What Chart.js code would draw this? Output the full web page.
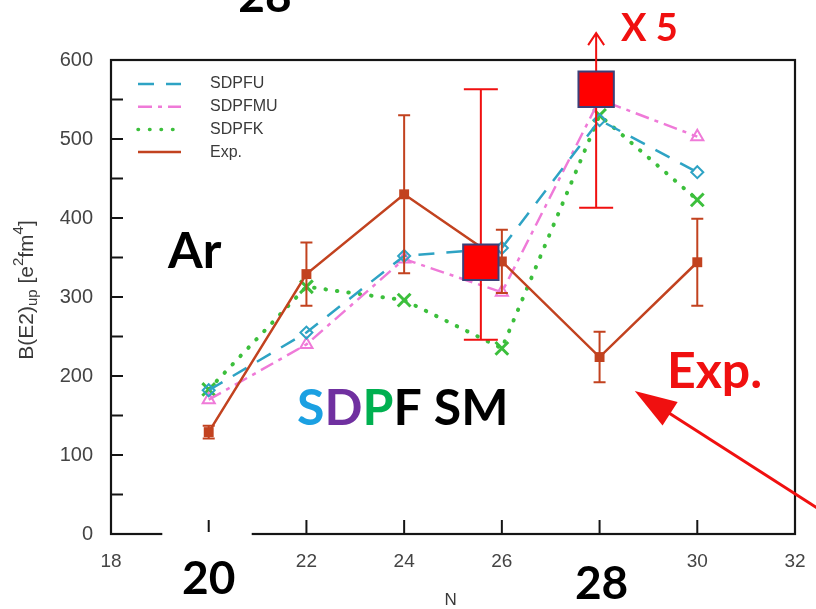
<!DOCTYPE html>
<html>
<head>
<meta charset="utf-8">
<script src="https://cdn.jsdelivr.net/npm/chart.js@4"></script>
<style>
  html, body { margin: 0; padding: 0; background: #fff; }
  canvas { display: block; }
</style>
</head>
<body>
<canvas id="be2Chart" width="816" height="609"></canvas>
<script>
// neutron number and B(E2)up values [e^2 fm^4]
const nValues = [20, 22, 24, 26, 28, 30];
const sdpfu = [182, 255, 352, 362, 524, 458];
const sdpfmu = [170, 240, 348, 306, 550, 503];
const sdpfk = [183, 313, 296, 235, 530, 423];
const expValues = [129, 329, 430, 345, 224, 344];
const expErr = [8, 40, 100, 40, 32, 55];

// the two highlighted measurements (big red boxes)
const highlightN = [25.57, 27.93];
const highlightValues = [344, 563];
const highlightLow = [246, 413];
const highlightHigh = [563, 634];

const xTicks = [18, 20, 22, 24, 26, 28, 30, 32];
const yTicks = [0, 100, 200, 300, 400, 500, 600];
const yMinorTicks = [50, 150, 250, 350, 450, 550];
const bigXLabels = [20, 28];
const legendLabels = ['SDPFU', 'SDPFMU', 'SDPFK', 'Exp.'];

const EXP_COLOR = '#c2421f';
const RED = '#f01010';
const AXIS_FONT = '"Liberation Sans", Arial, sans-serif';
const BOLD_FONT = 'Lato, "Open Sans", sans-serif';
const RIGHT_MARGIN = 21;

const pts = vals => vals.map((v, i) => ({ x: nValues[i], y: v }));

const datasets = [
  {
    label: 'highlight',
    data: highlightValues.map((v, i) => ({ x: highlightN[i], y: v })),
    showLine: false,
    pointStyle: 'rect',
    pointRadius: 25,
    pointBackgroundColor: '#ff0000',
    pointBorderColor: '#3b3f78',
    pointBorderWidth: 2,
    clip: false
  },
  {
    label: 'Exp.',
    data: pts(expValues),
    borderColor: EXP_COLOR,
    borderWidth: 2.5,
    pointStyle: 'rect',
    pointRadius: 7,
    pointBackgroundColor: EXP_COLOR,
    pointBorderColor: EXP_COLOR,
    pointBorderWidth: 0
  },
  {
    label: 'SDPFU',
    data: pts(sdpfu),
    borderColor: '#2ea3c4',
    borderWidth: 2.5,
    borderDash: [16, 12],
    pointStyle: 'rectRot',
    pointRadius: 6,
    pointBackgroundColor: 'rgba(0,0,0,0)',
    pointBorderColor: '#2ea3c4',
    pointBorderWidth: 2
  },
  {
    label: 'SDPFMU',
    data: pts(sdpfmu),
    borderColor: '#ef7ad8',
    borderWidth: 2.5,
    borderDash: [14, 6, 4, 6],
    pointStyle: 'triangle',
    pointRadius: 7,
    pointBackgroundColor: 'rgba(0,0,0,0)',
    pointBorderColor: '#ef7ad8',
    pointBorderWidth: 2
  },
  {
    label: 'SDPFK',
    data: pts(sdpfk),
    borderColor: '#3cbf3c',
    borderWidth: 4,
    borderDash: [0.5, 11],
    borderCapStyle: 'round',
    pointStyle: 'crossRot',
    pointRadius: 9,
    pointBorderColor: '#3cbf3c',
    pointBorderWidth: 3
  }
];

function drawRich(ctx, parts, x, y) {
  let total = 0;
  parts.forEach(p => { ctx.font = p.size + 'px ' + AXIS_FONT; total += ctx.measureText(p.t).width; });
  let cx = x - total / 2;
  parts.forEach(p => {
    ctx.font = p.size + 'px ' + AXIS_FONT;
    ctx.fillText(p.t, cx, y + (p.dy || 0));
    cx += ctx.measureText(p.t).width;
  });
}

// keep the plot frame a fixed distance from the right edge
const fixArea = {
  id: 'fixArea',
  afterLayout(chart) {
    const x = chart.scales.x;
    const right = chart.width - RIGHT_MARGIN;
    if (x && x.right !== right) {
      x.right = right;
      x.width = right - x.left;
      x.configure();
      chart.chartArea.right = right;
      chart.chartArea.width = right - chart.chartArea.left;
    }
  }
};

const decorations = {
  id: 'decorations',
  beforeDatasetsDraw(chart) {
    const { ctx, chartArea: a, scales: { x, y } } = chart;
    ctx.save();
    ctx.strokeStyle = '#151515';
    ctx.lineWidth = 2.2;
    ctx.strokeRect(a.left, a.top, a.right - a.left, a.bottom - a.top);
    // inward tick marks
    ctx.lineWidth = 2;
    yTicks.concat(yMinorTicks).forEach(v => {
      const py = y.getPixelForValue(v);
      ctx.beginPath(); ctx.moveTo(a.left, py); ctx.lineTo(a.left + 12, py); ctx.stroke();
    });
    xTicks.forEach(v => {
      const px = x.getPixelForValue(v);
      ctx.beginPath(); ctx.moveTo(px, a.bottom); ctx.lineTo(px, a.bottom - 14); ctx.stroke();
    });
    ctx.restore();
  },
  beforeDatasetDraw(chart, args) {
    const { ctx, scales: { x, y } } = chart;
    const label = chart.data.datasets[args.index].label;
    ctx.save();
    if (label === 'Exp.') {
      ctx.strokeStyle = EXP_COLOR;
      ctx.lineWidth = 2;
      nValues.forEach((n, i) => {
        const px = x.getPixelForValue(n);
        const hi = y.getPixelForValue(expValues[i] + expErr[i]);
        const lo = y.getPixelForValue(expValues[i] - expErr[i]);
        ctx.beginPath();
        ctx.moveTo(px, hi); ctx.lineTo(px, lo);
        ctx.moveTo(px - 6, hi); ctx.lineTo(px + 6, hi);
        ctx.moveTo(px - 6, lo); ctx.lineTo(px + 6, lo);
        ctx.stroke();
      });
    }
    if (label === 'highlight') {
      ctx.strokeStyle = RED;
      ctx.lineWidth = 2;
      highlightN.forEach((n, i) => {
        const px = x.getPixelForValue(n);
        const hi = y.getPixelForValue(highlightHigh[i]);
        const lo = y.getPixelForValue(highlightLow[i]);
        ctx.beginPath();
        ctx.moveTo(px, hi); ctx.lineTo(px, lo);
        ctx.moveTo(px - 17, lo); ctx.lineTo(px + 17, lo);
        if (highlightHigh[i] > y.max) {
          // open arrow: value off the scale
          ctx.moveTo(px - 8, hi + 12); ctx.lineTo(px, hi); ctx.lineTo(px + 8, hi + 12);
        } else {
          ctx.moveTo(px - 17, hi); ctx.lineTo(px + 17, hi);
        }
        ctx.stroke();
      });
    }
    ctx.restore();
  },
  afterDraw(chart) {
    const { ctx, chartArea: a, scales: { x, y } } = chart;
    ctx.save();

    // legend
    const lx = a.left + 27, ly = a.top + 24, step = 22.7;
    legendLabels.forEach((name, i) => {
      const ds = chart.data.datasets.find(d => d.label === name);
      const py = ly + i * step;
      ctx.save();
      ctx.strokeStyle = ds.borderColor;
      ctx.lineWidth = name === 'SDPFK' ? 3.5 : 2.5;
      ctx.lineCap = ds.borderCapStyle || 'butt';
      ctx.setLineDash(ds.borderDash || []);
      ctx.beginPath(); ctx.moveTo(lx, py); ctx.lineTo(lx + 43, py); ctx.stroke();
      ctx.restore();
      ctx.fillStyle = '#3a3a3a';
      ctx.font = '16px ' + AXIS_FONT;
      ctx.textBaseline = 'middle';
      ctx.textAlign = 'left';
      ctx.fillText(name, lx + 72, py);
    });

    // y axis title
    ctx.save();
    ctx.translate(27, 290);
    ctx.rotate(-Math.PI / 2);
    ctx.fillStyle = '#3a3a3a';
    ctx.textBaseline = 'middle';
    drawRich(ctx, [
      { t: 'B(E2)', size: 21 },
      { t: 'up', size: 15, dy: 6 },
      { t: ' [e', size: 21 },
      { t: '2', size: 15, dy: -8 },
      { t: 'fm', size: 21 },
      { t: '4', size: 15, dy: -8 },
      { t: ']', size: 21 }
    ], 0, 0);
    ctx.restore();

    // x axis title
    ctx.fillStyle = '#3a3a3a';
    ctx.font = '17px ' + AXIS_FONT;
    ctx.textAlign = 'center';
    ctx.textBaseline = 'middle';
    ctx.fillText('N', x.getPixelForValue(24.95), 600);

    // large N labels, sitting on a white patch over the axis
    ctx.fillStyle = '#ffffff';
    ctx.fillRect(x.getPixelForValue(19.05), a.bottom - 2, x.getPixelForValue(20.88) - x.getPixelForValue(19.05), 6);
    ctx.fillStyle = '#000';
    ctx.font = 'bold 46px ' + BOLD_FONT;
    ctx.textBaseline = 'alphabetic';
    ctx.fillText(String(bigXLabels[0]), x.getPixelForValue(bigXLabels[0]), 594);
    ctx.fillText(String(bigXLabels[1]), x.getPixelForValue(bigXLabels[1]) + 2, 599);
    ctx.fillText(String(bigXLabels[1]), 265, 12);

    // isotope and model labels
    ctx.textAlign = 'left';
    ctx.font = 'bold 50px ' + BOLD_FONT;
    ctx.fillText('Ar', 168, 268);
    const parts = [['S', '#1ba0e2'], ['D', '#7030a0'], ['P', '#00b050'], ['F SM', '#000']];
    let cx = 297;
    parts.forEach(([t, c]) => {
      ctx.fillStyle = c;
      ctx.fillText(t, cx, 425);
      cx += ctx.measureText(t).width;
    });

    ctx.fillStyle = RED;
    ctx.font = 'bold 50px ' + BOLD_FONT;
    ctx.fillText('Exp.', 667, 388);
    ctx.font = 'bold 38px ' + BOLD_FONT;
    ctx.fillText('X 5', 621, 41);

    // pointer arrow towards the N=28 measurement
    const tipX = x.getPixelForValue(28.72), tipY = y.getPixelForValue(181);
    const tailX = x.getPixelForValue(32.45), tailY = y.getPixelForValue(33);
    const ang = Math.atan2(tipY - tailY, tipX - tailX);
    ctx.strokeStyle = RED;
    ctx.lineWidth = 3;
    ctx.beginPath();
    ctx.moveTo(tailX, tailY);
    ctx.lineTo(tipX - Math.cos(ang) * 30, tipY - Math.sin(ang) * 30);
    ctx.stroke();
    ctx.fillStyle = RED;
    ctx.beginPath();
    ctx.moveTo(tipX, tipY);
    ctx.lineTo(tipX - Math.cos(ang) * 42 + Math.sin(ang) * 14, tipY - Math.sin(ang) * 42 - Math.cos(ang) * 14);
    ctx.lineTo(tipX - Math.cos(ang) * 42 - Math.sin(ang) * 14, tipY - Math.sin(ang) * 42 + Math.cos(ang) * 14);
    ctx.closePath();
    ctx.fill();

    ctx.restore();
  }
};

new Chart(document.getElementById('be2Chart'), {
  type: 'line',
  data: { datasets },
  options: {
    responsive: false,
    devicePixelRatio: 1,
    animation: false,
    layout: { padding: { left: 0, right: RIGHT_MARGIN, top: 60, bottom: 0 } },
    plugins: { legend: { display: false }, tooltip: { enabled: false } },
    scales: {
      x: {
        type: 'linear',
        min: 18,
        max: 32,
        afterBuildTicks: s => { s.ticks = xTicks.map(v => ({ value: v })); },
        afterFit: s => { s.height = 75; },
        grid: { display: false, drawTicks: false },
        border: { display: false },
        ticks: {
          padding: 16,
          color: '#444',
          font: { family: AXIS_FONT, size: 19 },
          callback: v => bigXLabels.includes(v) ? '' : String(v)
        }
      },
      y: {
        min: 0,
        max: 600,
        afterBuildTicks: s => { s.ticks = yTicks.map(v => ({ value: v })); },
        afterFit: s => { s.width = 111; },
        grid: { display: false, drawTicks: false },
        border: { display: false },
        ticks: {
          padding: 18,
          color: '#444',
          font: { family: AXIS_FONT, size: 20 }
        }
      }
    }
  },
  plugins: [fixArea, decorations]
});
</script>
</body>
</html>
